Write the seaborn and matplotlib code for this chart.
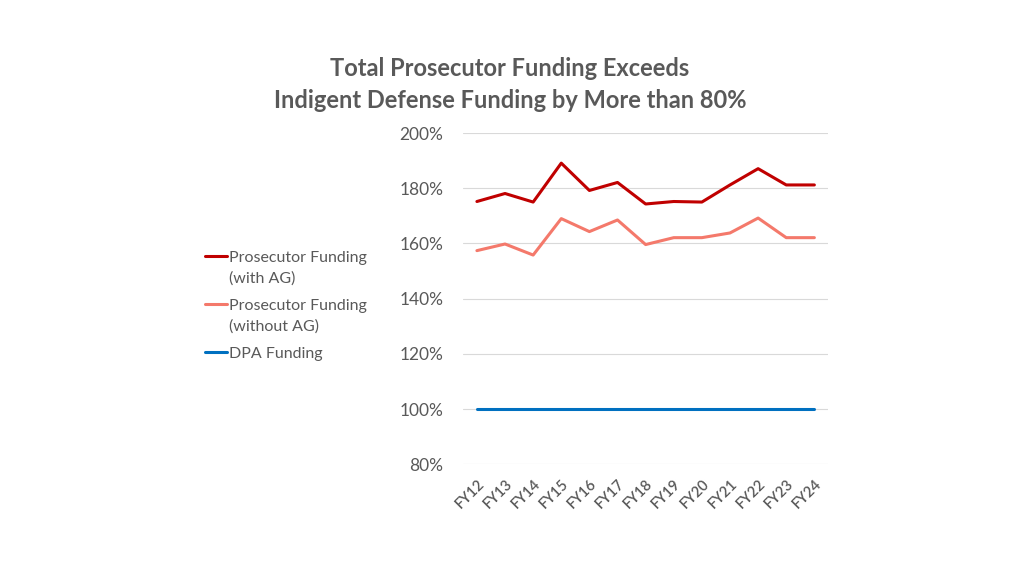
import matplotlib
matplotlib.use("Agg")
import matplotlib.pyplot as plt
from matplotlib.lines import Line2D
import seaborn as sns
import pandas as pd

years = ["FY12","FY13","FY14","FY15","FY16","FY17","FY18","FY19","FY20","FY21","FY22","FY23","FY24"]
with_ag = [175.2,178.1,175.0,189.1,179.2,182.1,174.3,175.2,175.0,181.2,187.1,181.2,181.2]
without_ag = [157.4,159.8,155.8,169.0,164.3,168.5,159.6,162.1,162.1,163.8,169.2,162.1,162.1]
dpa = [100]*13
series_names = ["Prosecutor Funding\n(with AG)", "Prosecutor Funding\n(without AG)", "DPA Funding"]
colors = ["#C00000", "#F4796B", "#0070C0"]
yticks = [80, 100, 120, 140, 160, 180, 200]

df = pd.concat([
    pd.DataFrame({"year": years, "value": with_ag, "series": series_names[0]}),
    pd.DataFrame({"year": years, "value": without_ag, "series": series_names[1]}),
    pd.DataFrame({"year": years, "value": dpa, "series": series_names[2]}),
])

sns.set_theme(style="white")
plt.rcParams['font.family'] = ['Lato', 'DejaVu Sans']
gray = "#595959"

fig = plt.figure(figsize=(10.24, 5.76), dpi=100)
ax = fig.add_axes([0.452, 0.194, 0.357, 0.575])
sns.lineplot(data=df, x="year", y="value", hue="series", palette=colors,
             hue_order=series_names, linewidth=2.2, ax=ax, sort=False, legend=False)
ax.set_xlim(-0.5, len(years) - 0.5)
ax.set_ylim(80, 200)
ax.set_yticks(yticks)
ax.set_yticklabels([f"{v}%" for v in yticks], color=gray, fontsize=12.5)
ax.yaxis.grid(True, color="#D9D9D9", linewidth=0.8)
ax.set_axisbelow(True)
for s in ax.spines.values():
    s.set_visible(False)
ax.tick_params(axis="y", length=0, pad=14)
ax.tick_params(axis="x", length=0, pad=9)
plt.setp(ax.get_xticklabels(), rotation=45, ha="right", rotation_mode="anchor",
         color=gray, fontsize=10.5, fontweight="semibold")
ax.set_xlabel("")
ax.set_ylabel("")

# legend drawn manually so handles align with the first text line
entry_tops = [256, 304, 352]
for name, col, ytop in zip(series_names, colors, entry_tops):
    yf = 1 - ytop / 576
    fig.add_artist(Line2D([205/1024, 227/1024], [yf, yf], color=col, linewidth=2.2,
                          transform=fig.transFigure))
    fig.text(229/1024, yf + 5/576, name, ha="left", va="top", fontsize=11.5, color=gray,
             linespacing=1.58, transform=fig.transFigure)

fig.text(510/1024, 1-68/576, "Total Prosecutor Funding Exceeds", ha="center", va="center",
         fontsize=17, fontweight="bold", color=gray)
fig.text(510/1024, 1-101/576, "Indigent Defense Funding by More than 80%", ha="center", va="center",
         fontsize=17, fontweight="bold", color=gray)

fig.savefig("out.png", dpi=100)
